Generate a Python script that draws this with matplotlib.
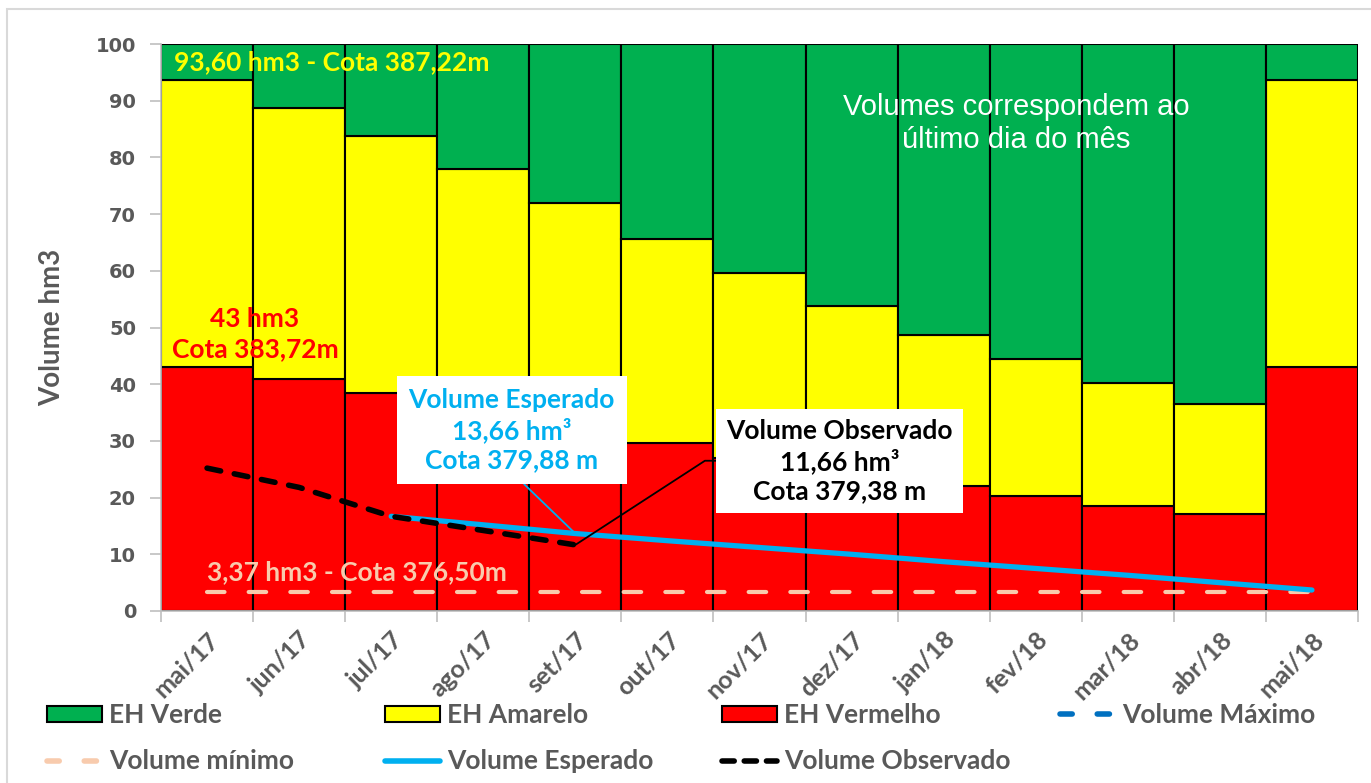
import numpy as np
import matplotlib
matplotlib.use("Agg")
import matplotlib.pyplot as plt
from matplotlib.patches import Patch, Rectangle
from matplotlib.lines import Line2D

# --- data ---
meses = ['mai/17', 'jun/17', 'jul/17', 'ago/17', 'set/17', 'out/17', 'nov/17',
         'dez/17', 'jan/18', 'fev/18', 'mar/18', 'abr/18', 'mai/18']
topo_vermelho = [43.0, 40.9, 38.4, 35.5, 32.6, 29.7, 27.0, 24.5, 22.0, 20.3, 18.5, 17.1, 43.0]
topo_amarelo = [93.6, 88.7, 83.8, 78.0, 72.0, 65.6, 59.6, 53.8, 48.7, 44.4, 40.2, 36.5, 93.6]
topo_verde = [100] * 13
vol_minimo = [3.37] * 13
vol_esperado = [np.nan, np.nan, 16.7, 15.2, 13.66, 12.4, 11.2, 10.0, 8.7, 7.5, 6.3, 5.0, 3.7]
vol_observado = [25.2, 21.8, 16.7, 14.2, 11.66] + [np.nan] * 8

VERDE = '#00B050'
AMARELO = '#FFFF00'
VERMELHO = '#FF0000'
CIANO = '#00B0F0'
PESSEGO = '#F8CBAD'
AZUL = '#0070C0'
CINZA = '#595959'
FONTE = 'Lato'

x = np.arange(len(meses))
h_vermelho = np.array(topo_vermelho)
h_amarelo = np.array(topo_amarelo) - h_vermelho
h_verde = np.array(topo_verde) - np.array(topo_amarelo)

fig = plt.figure(figsize=(13.71, 7.83), dpi=100)
fig.patches.append(Rectangle((7 / 1371, -0.05), 1.1, 1.05 - 9 / 783, transform=fig.transFigure,
                             fill=False, edgecolor='#D9D9D9', linewidth=1.5))
ax = fig.add_axes([161 / 1371, 1 - 611 / 783, (1358 - 161) / 1371, (611 - 44) / 783])

ax.bar(x, h_vermelho, width=1, color=VERMELHO, edgecolor='black', linewidth=1.5, zorder=2)
ax.bar(x, h_amarelo, width=1, bottom=h_vermelho, color=AMARELO, edgecolor='black', linewidth=1.5, zorder=2)
ax.bar(x, h_verde, width=1, bottom=topo_amarelo, color=VERDE, edgecolor='black', linewidth=1.5, zorder=2)

ax.plot(x, vol_minimo, color=PESSEGO, lw=3, dashes=(4.2, 5.8), dash_capstyle='round', zorder=3)
ax.plot(x, vol_esperado, color=CIANO, lw=3.8, solid_capstyle='round', zorder=4)
ax.plot(x, vol_observado, color='black', lw=4, dashes=(2.5, 2.5), dash_capstyle='round', zorder=5)

ax.set_xlim(-0.5, len(meses) - 0.5)
ax.set_ylim(0, 100)
ax.set_yticks(np.arange(0, 101, 10))
ax.set_xticks(np.arange(-0.5, len(meses)), minor=False)
ax.set_xticklabels([])
ax.set_xticks(x, minor=True)
ax.set_xticklabels(meses, minor=True, rotation=45, ha='right', va='top', rotation_mode='anchor',
                   fontsize=18, fontweight='bold', color=CINZA, family=FONTE)
ax.tick_params(axis='x', which='minor', length=0, pad=12)
ax.tick_params(axis='x', which='major', length=8, color='#BFBFBF', width=1.2)
ax.tick_params(axis='y', length=8, color='#BFBFBF', width=1.2, pad=10)
for t in ax.get_yticklabels():
    t.set_fontsize(14)
    t.set_fontweight('bold')
    t.set_color(CINZA)
for s in ['top', 'right']:
    ax.spines[s].set_visible(False)
for s in ['left', 'bottom']:
    ax.spines[s].set_color('#BFBFBF')
    ax.spines[s].set_linewidth(1.2)
ax.set_ylabel('Volume hm3', fontsize=20, fontweight='bold', color=CINZA, family=FONTE, labelpad=22)

# --- text annotations ---
ax.text(-0.36, 96.8, '93,60 hm3 - Cota 387,22m', color=AMARELO, fontsize=19, fontweight='bold',
        family=FONTE, ha='left', va='center', zorder=6)
ax.text(0.52, 48.9, '43 hm3\nCota 383,72m', color=VERMELHO, fontsize=19, fontweight='bold',
        family=FONTE, ha='center', va='center', linespacing=1.3, zorder=6)
ax.text(0.0, 6.9, '3,37 hm3 - Cota 376,50m', color=PESSEGO, fontsize=19, fontweight='bold',
        family=FONTE, ha='left', va='center', zorder=6)
ax.text(8.79, 86.0, 'Volumes correspondem ao\núltimo dia do mês', color='white', fontsize=21,
        family='Liberation Sans', ha='center', va='center', linespacing=1.2, zorder=6)

ax.annotate('Volume Esperado\n13,66 hm³\nCota 379,88 m', xy=(4, vol_esperado[4]), xytext=(3.31, 31.9),
            color=CIANO, fontsize=19, fontweight='bold', family=FONTE, ha='center', va='center',
            linespacing=1.25, zorder=7,
            bbox=dict(boxstyle='square,pad=0.45', facecolor='white', edgecolor='none'),
            arrowprops=dict(arrowstyle='-', color=CIANO, lw=1.3, relpos=(0.5, 0), shrinkA=0, shrinkB=0))
ax.annotate('Volume Observado\n11,66 hm³\nCota 379,38 m', xy=(4, vol_observado[4]), xytext=(6.87, 26.5),
            color='black', fontsize=19, fontweight='bold', family=FONTE, ha='center', va='center',
            linespacing=1.25, zorder=7,
            bbox=dict(boxstyle='square,pad=0.38', facecolor='white', edgecolor='none'),
            arrowprops=dict(arrowstyle='-', color='black', lw=1.3, relpos=(0, 0.5), shrinkA=0, shrinkB=0,
                            connectionstyle='angle,angleA=0,angleB=33,rad=0'))

# --- legend, one column at a time (fixed column starts like the original) ---
h_verde_leg = Patch(facecolor=VERDE, edgecolor='black', linewidth=1.5)
h_amarelo_leg = Patch(facecolor=AMARELO, edgecolor='black', linewidth=1.5)
h_vermelho_leg = Patch(facecolor=VERMELHO, edgecolor='black', linewidth=1.5)
h_maximo = Line2D([], [], color=AZUL, lw=4, dashes=(2.2, 4.5), dash_capstyle='round')
h_minimo = Line2D([], [], color=PESSEGO, lw=4, dashes=(2.2, 4.5), dash_capstyle='round')
h_esperado = Line2D([], [], color=CIANO, lw=4, solid_capstyle='round')
h_observado = Line2D([], [], color='black', lw=4, dashes=(2.2, 1.8), dash_capstyle='round')

colunas = [([h_verde_leg, h_minimo], ['EH Verde', 'Volume mínimo']),
           ([h_amarelo_leg, h_esperado], ['EH Amarelo', 'Volume Esperado']),
           ([h_vermelho_leg, h_observado], ['EH Vermelho', 'Volume Observado']),
           ([h_maximo], ['Volume Máximo'])]
inicio_x = [47, 385, 722, 1060]
for (hs, ls), px in zip(colunas, inicio_x):
    leg = fig.legend(hs, ls, loc='upper left', bbox_to_anchor=(px / 1371, 1 - 703 / 783),
                     frameon=False, handlelength=2.1, handleheight=0.55, handletextpad=0.25,
                     labelspacing=0.85, borderpad=0, borderaxespad=0,
                     prop=dict(family=FONTE, weight='bold', size=19))
    for t in leg.get_texts():
        t.set_color(CINZA)

fig.savefig('out.png', dpi=100)
